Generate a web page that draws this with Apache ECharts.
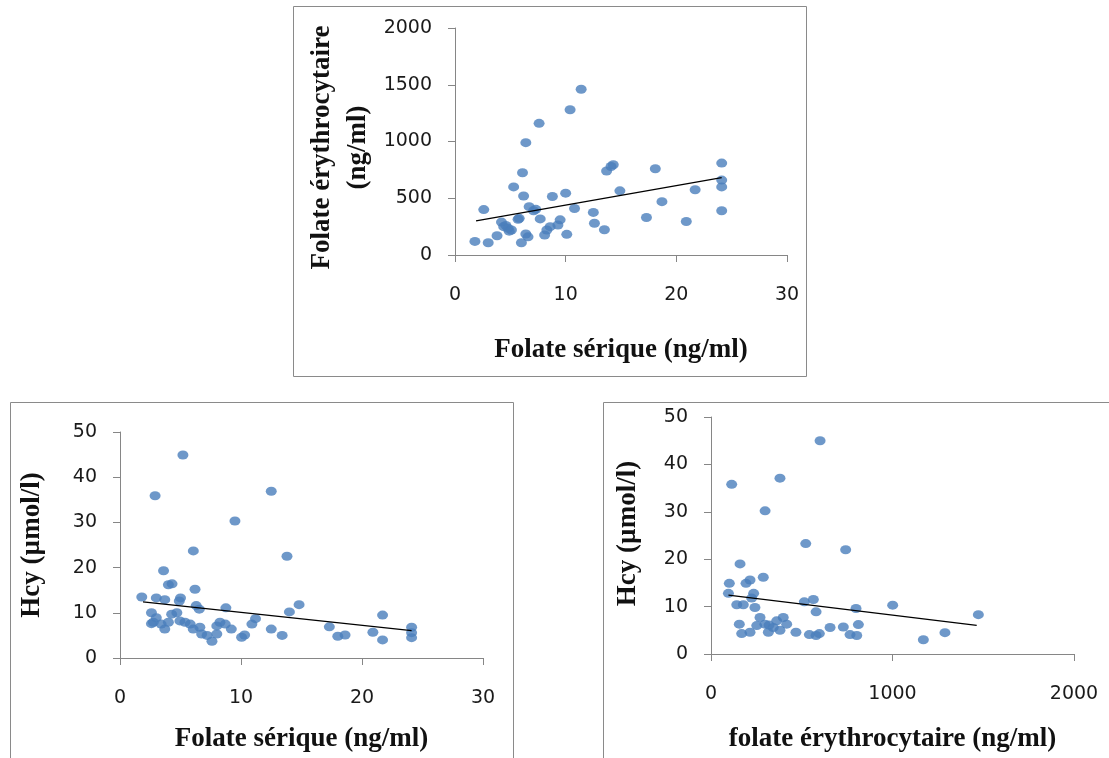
<!DOCTYPE html>
<html>
<head>
<meta charset="utf-8">
<script src="https://cdn.jsdelivr.net/npm/echarts@6/dist/echarts.min.js"></script>
<style>
  html, body { margin: 0; padding: 0; background: #fff; }
  #chart { width: 1109px; height: 758px; }
</style>
</head>
<body>
<div id="chart"></div>
<script>
// top chart: serum folate vs erythrocyte folate
const serumA = [1.8, 2.6, 3.0, 3.8, 4.2, 4.4, 4.6, 4.8, 4.9, 5.1, 5.3, 5.7, 5.8, 6.0, 6.1, 6.2, 6.4, 6.4, 6.6, 6.7,
  7.1, 7.3, 7.6, 7.7, 8.1, 8.3, 8.6, 8.8, 9.3, 9.5, 10.0, 10.1, 10.4, 10.8, 11.4, 12.5, 12.6, 13.5, 13.7, 14.1,
  14.3, 14.9, 17.3, 18.1, 18.7, 20.9, 21.7, 24.1, 24.1, 24.1, 24.1];
const erythroA = [120, 400, 108, 170, 290, 250, 260, 235, 210, 220, 600, 315, 323, 108, 725, 520, 990, 185, 160, 426,
  390, 402, 1160, 318, 176, 220, 250, 515, 264, 310, 545, 182, 1280, 410, 1460, 375, 280, 222, 740, 780,
  795, 565, 330, 760, 470, 295, 575, 810, 660, 600, 390];
const trendA = [[1.9, 300], [24.1, 682]];

// bottom left: serum folate vs Hcy
const serumB = [1.8, 2.6, 2.6, 2.75, 2.9, 3.0, 3.0, 3.4, 3.6, 3.7, 3.7, 4.0, 4.0, 4.3, 4.27, 4.7, 4.9, 5.0, 4.95, 5.2,
  5.37, 5.8, 6.05, 6.06, 6.2, 6.3, 6.55, 6.6, 6.75, 7.2, 7.6, 8.0, 8.0, 8.26, 8.7, 8.75, 9.2, 9.5, 10.05, 10.3,
  10.9, 11.2, 12.5, 12.5, 13.4, 13.8, 14.0, 14.8, 17.3, 18.0, 18.6, 20.9, 21.7, 21.7, 24.1, 24.1, 24.1];
const hcyB = [13.5, 10.0, 7.6, 7.9, 35.9, 13.3, 8.9, 7.5, 19.3, 12.9, 6.4, 7.9, 16.2, 16.4, 9.7, 10.0, 12.6, 13.3, 8.2, 44.9,
  7.9, 7.5, 6.4, 23.7, 15.2, 11.6, 10.8, 6.8, 5.3, 5.0, 3.7, 5.3, 7.1, 7.9, 7.5, 11.1, 6.4, 30.3, 4.6, 5.1,
  7.5, 8.7, 36.9, 6.4, 5.0, 22.5, 10.2, 11.8, 6.9, 4.8, 5.1, 5.7, 9.5, 4.0, 6.8, 5.6, 4.5];
const trendB = [[1.9, 12.4], [24.1, 6.06]];

// bottom right: erythrocyte folate vs Hcy
const erythroC = [96, 101, 114, 142, 156, 160, 169, 178, 193, 215, 215, 224, 235, 242, 252, 270, 288, 297, 298, 316,
  320, 343, 362, 380, 380, 398, 417, 468, 514, 522, 542, 564, 579, 579, 597, 601, 656, 729, 742, 766,
  799, 803, 812, 1001, 1170, 1289, 1473];
const hcyC = [12.8, 14.9, 35.8, 10.4, 6.3, 19.0, 4.3, 10.4, 14.9, 15.6, 4.6, 11.8, 12.8, 9.8, 6.0, 7.7, 16.2, 6.3, 30.2, 4.6,
  6.1, 5.6, 7.0, 37.1, 5.0, 7.7, 6.3, 4.6, 11.0, 23.3, 4.1, 11.5, 8.9, 3.9, 4.3, 45.0, 5.6, 5.7, 22.0, 4.1,
  9.6, 3.9, 6.2, 10.3, 3.0, 4.5, 8.3];
const trendC = [[96, 12.4], [1464, 6.06]];

const chart = echarts.init(document.getElementById('chart'));

const pairs = (xs, ys) => xs.map((x, i) => [x, ys[i]]);

const axisGray = '#868686';
const tickFont = { fontFamily: 'DejaVu Sans', fontSize: 19, color: '#1a1a1a', formatter: (v) => String(v) };
const nameFont = { fontFamily: 'Liberation Serif', fontWeight: 'bold', fontSize: 27, color: '#111', lineHeight: 36 };

function xAx(grid, max, interval, name, gap) {
  return {
    type: 'value', gridIndex: grid, min: 0, max: max, interval: interval,
    name: name, nameLocation: 'middle', nameGap: gap, nameTextStyle: nameFont,
    axisLine: { show: true, lineStyle: { color: axisGray } },
    axisTick: { show: true, length: 7, lineStyle: { color: axisGray } },
    axisLabel: Object.assign({ margin: 31 }, tickFont),
    splitLine: { show: false }
  };
}

function yAx(grid, max, interval, name, gap, pad) {
  return {
    type: 'value', gridIndex: grid, min: 0, max: max, interval: interval,
    name: name, nameLocation: 'middle', nameGap: gap,
    nameTextStyle: Object.assign({ padding: pad }, nameFont),
    axisLine: { show: true, lineStyle: { color: axisGray } },
    axisTick: { show: true, length: 7, lineStyle: { color: axisGray } },
    axisLabel: Object.assign({ margin: 23 }, tickFont),
    splitLine: { show: false }
  };
}

function dots(i, data) {
  return {
    type: 'scatter', xAxisIndex: i, yAxisIndex: i, data: data,
    symbol: 'circle', symbolSize: [11, 9],
    itemStyle: { color: '#4a7ebb' }
  };
}

function trend(i, data) {
  return {
    type: 'line', xAxisIndex: i, yAxisIndex: i, data: data,
    showSymbol: false, symbol: 'none',
    lineStyle: { color: '#000', width: 1.3 }
  };
}

const option = {
  backgroundColor: '#fff',
  animation: false,
  graphic: [
    { type: 'rect', shape: { x: 293.5, y: 6.5, width: 513, height: 370 }, style: { fill: 'none', stroke: '#8a8a8a', lineWidth: 1 } },
    { type: 'rect', shape: { x: 10.5, y: 402.5, width: 503, height: 380 }, style: { fill: 'none', stroke: '#8a8a8a', lineWidth: 1 } },
    { type: 'rect', shape: { x: 603.5, y: 402.5, width: 520, height: 380 }, style: { fill: 'none', stroke: '#8a8a8a', lineWidth: 1 } }
  ],
  grid: [
    { left: 455, top: 28, width: 332, height: 227 },
    { left: 120, top: 432, width: 363, height: 231 },
    { left: 711, top: 417, width: 363, height: 242 }
  ],
  xAxis: [
    xAx(0, 30, 10, 'Folate sérique (ng/ml)', 77),
    xAx(1, 30, 10, 'Folate sérique (ng/ml)', 63),
    xAx(2, 2000, 1000, 'folate érythrocytaire (ng/ml)', 67)
  ],
  yAxis: [
    yAx(0, 2000, 500, 'Folate érythrocytaire\n(ng/ml)', 79, [0, 12, 0, 0]),
    yAx(1, 50, 10, 'Hcy (µmol/l)', 70, 0),
    yAx(2, 50, 10, 'Hcy (µmol/l)', 65, [0, 0, 0, 4])
  ],
  series: [
    dots(0, pairs(serumA, erythroA)),
    trend(0, trendA),
    dots(1, pairs(serumB, hcyB)),
    trend(1, trendB),
    dots(2, pairs(erythroC, hcyC)),
    trend(2, trendC)
  ]
};

chart.setOption(option);
</script>
</body>
</html>
